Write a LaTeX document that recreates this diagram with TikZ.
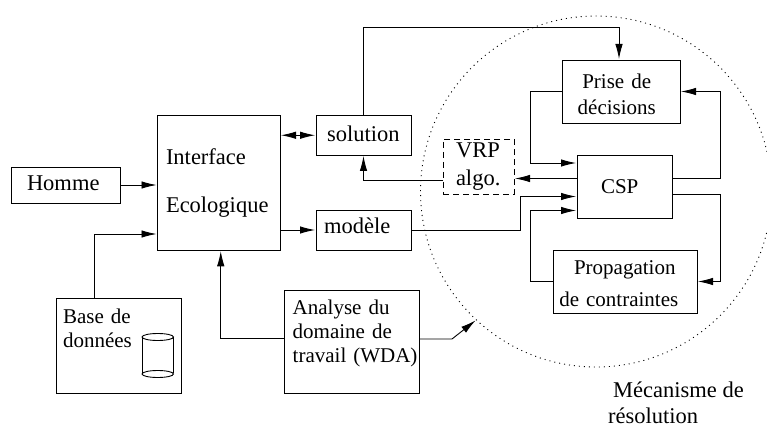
\documentclass[tikz,border=0pt]{standalone}
\usepackage{fontspec}
\setmainfont{Liberation Serif}
\usetikzlibrary{arrows.meta}

\newcommand{\bas}[1]{\rule[-#1pt]{0pt}{0pt}}
\newcommand{\haut}[1]{\rule{0pt}{#1pt}}

\begin{document}
\begin{tikzpicture}[->,>={Latex[length=15pt,width=7.5pt]},shorten >=1pt,x=1pt,y=1pt,line width=0.9pt,
  bloc/.style={draw,rectangle,align=left,outer sep=0pt,inner ysep=0pt},
  grand/.style={font=\fontsize{22.5}{24}\selectfont},
  petit/.style={font=\fontsize{21}{24}\selectfont}]

\clip (0,0) rectangle (767,426);

\node[bloc,grand,text width=105.5pt,inner xsep=8.5pt,minimum height=134.5pt] (interface) at (218.75,243) {Interface\\[24pt]Ecologique};
\node[bloc,grand,text width=77pt,inner xsep=16pt,minimum height=36pt]  (homme)    [left of=interface,node distance=153.25pt,yshift=-2pt] {Homme\bas{3.6}};
\node[bloc,petit,text width=111.5pt,inner xsep=7pt,minimum height=95pt] (base)    [below of=homme,node distance=160.5pt,xshift=53.25pt] {Base de\\données\\[10pt]~};
\node[bloc,petit,text width=117.6pt,inner xsep=8.7pt,minimum height=103pt] (analyse) [right of=base,node distance=232.75pt,yshift=4pt] {Analyse du\\domaine de\\travail~(WDA)\\[-4pt]~};
\node[bloc,grand,text width=73pt,inner xsep=11pt,minimum height=39.5pt] (solution) [right of=interface,node distance=144.75pt,yshift=47.75pt] {solution\bas{4}};
\node[bloc,grand,text width=79pt,inner xsep=8pt,minimum height=40pt]   (modele)   [below of=solution,node distance=94.75pt] {modèle\bas{8}};
\node[bloc,petit,text width=47pt,inner xsep=24pt,minimum height=63pt]  (csp)      at (624.5,239.5) {CSP};
\node[bloc,petit,text width=86.6pt,inner xsep=15.7pt,minimum height=63pt] (prise) [above of=csp,node distance=95pt,xshift=-3.5pt] {\haut{19.5}\hspace*{4.6pt}Prise de\\[2pt]décisions};
\node[bloc,petit,text width=131.4pt,inner xsep=6.3pt,minimum height=63pt] (prop)  [below of=csp,node distance=95pt,xshift=0.5pt] {\haut{18.5}\hspace*{14.7pt}Propagation\\[8pt]de contraintes};
\node[bloc,grand,dashed,dash pattern=on 6pt off 4pt,text width=45pt,inner xsep=13pt,minimum height=55pt] (vrp) [left of=csp,node distance=146pt,yshift=20pt] {VRP\\[4pt]algo.};
\node[circle,draw,dash pattern=on 1pt off 4pt,minimum size=351pt,inner sep=0pt,outer sep=0pt] (meca) at (596,234.5) {};
\node[grand,align=left,inner sep=0pt] (legende) at (676,23) {\hspace*{5pt}Mécanisme de\\[2pt]résolution};

\coordinate (toit) at (500,398.5);

\draw (homme.east) -- (homme.east -| interface.west);
\draw ([xshift=-24.75pt]base.north) |- ([yshift=-51pt]interface.west);
\draw ([yshift=3.5pt]analyse.west) -| ([xshift=2pt]interface.south);
\draw[<->,shorten <=1pt] (solution.west -| interface.east) -- (solution.west);
\draw (modele.west -| interface.east) -- (modele.west);
\draw (solution.north) |- (toit) -| ([xshift=-2pt]prise.north);
\draw (prise.west) -- ++(-32,0) |- ([yshift=23.5pt]csp.west);
\draw ([yshift=-14pt]vrp.west) -| (solution.south);
\draw ([yshift=8pt]csp.west) -- ([yshift=8pt]csp.west -| vrp.east);
\draw ([yshift=8pt]csp.east) -- ++(48,0) |- (prise.east);
\draw ([yshift=-7.5pt]csp.east) -- ++(48,0) |- (prop.east);
\draw (modele.east) -- ++(109,0) |- ([yshift=-10pt]csp.west);
\draw (prop.west) -- ++(-23,0) |- ([yshift=-24pt]csp.west);
\draw ([yshift=2.5pt]analyse.east) -- ++(33,0) -- (meca.227);

\draw[-] (142,89) -- (142,52) (173.5,89) -- (173.5,52);
\draw[-] (157.75,89) ellipse (15.75 and 3.5);
\draw[-] (157.75,52) ellipse (15.75 and 3.5);

\end{tikzpicture}
\end{document}
